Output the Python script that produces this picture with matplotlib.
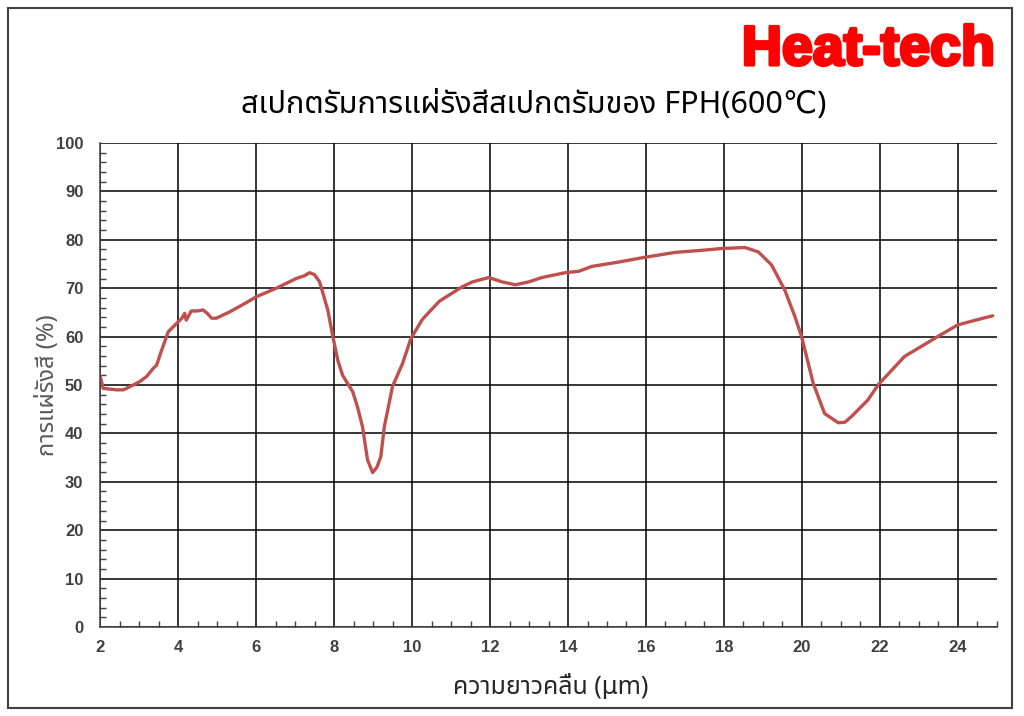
import matplotlib
matplotlib.use('Agg')
import matplotlib.pyplot as plt
import matplotlib.patheffects as pe
from matplotlib import font_manager
from matplotlib.ft2font import FT2Font
from matplotlib.patches import Rectangle
from matplotlib.ticker import MultipleLocator

# wavelength (um) and emissivity (%)
wavelength = [2.0, 2.08, 2.42, 2.6, 2.85, 3.02, 3.2, 3.36, 3.45, 3.58, 3.75, 3.96,
              4.1, 4.17, 4.21, 4.34, 4.5, 4.64, 4.75, 4.86, 4.98, 5.3, 5.75, 6.0,
              6.52, 7.03, 7.25, 7.37, 7.5, 7.63, 7.84, 7.97, 8.1, 8.22, 8.48, 8.6,
              8.73, 8.86, 8.99, 9.1, 9.2, 9.29, 9.5, 9.76, 9.97, 10.27, 10.7,
              11.29, 11.55, 11.97, 12.31, 12.65, 12.99, 13.33, 13.93, 14.28, 14.61,
              15.3, 15.98, 16.75, 17.4, 17.94, 18.54, 18.88, 19.22, 19.56, 19.82,
              19.99, 20.29, 20.58, 20.93, 21.1, 21.27, 21.69, 21.96, 22.63, 23.48,
              23.99, 24.5, 24.89]
emissivity = [51.9, 49.3, 49.0, 49.0, 50.0, 50.7, 51.8, 53.4, 54.1, 57.2, 61.0, 62.7,
              63.8, 64.8, 63.4, 65.3, 65.3, 65.5, 64.8, 63.8, 63.8, 65.0, 67.0, 68.2,
              70.0, 72.0, 72.6, 73.2, 72.8, 71.3, 65.5, 60.0, 55.0, 52.0, 48.6, 45.5,
              41.4, 34.5, 31.9, 33.0, 35.2, 41.4, 49.7, 54.5, 59.6, 63.6, 67.3,
              70.3, 71.3, 72.2, 71.3, 70.7, 71.3, 72.2, 73.2, 73.5, 74.5,
              75.4, 76.4, 77.4, 77.8, 78.2, 78.4, 77.5, 74.8, 69.6, 64.1,
              60.0, 50.3, 44.1, 42.2, 42.3, 43.5, 46.9, 50.1, 55.9, 60.0,
              62.4, 63.5, 64.3]

title = 'สเปกตรัมการแผ่รังสีสเปกตรัมของ FPH(600℃)'
xlabel = 'ความยาวคลื่น (µm)'
ylabel = 'การแผ่รังสี (%)'


def find_font(codepoint, prefer=()):
    cands = []
    for f in font_manager.fontManager.ttflist:
        try:
            if codepoint in FT2Font(f.fname).get_charmap():
                cands.append(f.name)
        except Exception:
            pass
    for p in prefer:
        if p in cands:
            return p
    return cands[0] if cands else 'DejaVu Sans'


thai = find_font(0x0E01, prefer=['Noto Sans Thai', 'Noto Sans Thai UI', 'Loma',
                                 'Garuda', 'Tlwg Typo', 'Norasi'])
names = {f.name for f in font_manager.fontManager.ttflist}
narrow = 'Liberation Sans Narrow' if 'Liberation Sans Narrow' in names else 'Liberation Sans'

fig = plt.figure(figsize=(10.24, 7.16), dpi=100)
ax = fig.add_axes([0.0977, 0.1243, 0.8759, 0.676])

ax.plot(wavelength, emissivity, color='#C0504D', linewidth=2.4, solid_capstyle='round')

ax.set_xlim(2, 25)
ax.set_ylim(0, 100)
ax.xaxis.set_major_locator(MultipleLocator(2))
ax.xaxis.set_minor_locator(MultipleLocator(0.5))
ax.yaxis.set_major_locator(MultipleLocator(10))
ax.yaxis.set_minor_locator(MultipleLocator(2))
ax.grid(True, which='major', color='black', linewidth=1.1)
ax.set_axisbelow(True)
ax.tick_params(axis='y', which='major', length=0, pad=12)
ax.tick_params(axis='x', which='major', length=0, pad=9)
ax.tick_params(which='minor', direction='in', length=4, width=1, color='#404040')
for s in ['top', 'right']:
    ax.spines[s].set_visible(False)
for s in ['left', 'bottom']:
    ax.spines[s].set_color('#404040')
    ax.spines[s].set_linewidth(1.1)

for lbl in ax.get_xticklabels() + ax.get_yticklabels():
    lbl.set_fontfamily(narrow)
    lbl.set_fontweight('bold')
    lbl.set_fontsize(12)
    lbl.set_color('#404040')

ax.set_xlabel(xlabel, fontsize=18, family=[thai, 'DejaVu Sans'], color='#262626')
ax.xaxis.set_label_coords(0.502, -0.098)
ax.set_ylabel(ylabel, fontsize=17, family=[thai, 'DejaVu Sans'], color='#595959')
ax.yaxis.set_label_coords(-0.045, 0.5)

fig.text(0.5215, 0.853, title, fontsize=22, family=[thai, 'DejaVu Sans'],
         ha='center', va='center', color='black')
fig.text(0.971, 0.929, 'Heat-tech', fontsize=40, fontweight='bold', family=narrow,
         color='#FF0000', ha='right', va='center',
         path_effects=[pe.withStroke(linewidth=2.5, foreground='#FF0000')])

fig.patches.append(Rectangle((0.008, 0.011), 0.98, 0.978, transform=fig.transFigure,
                             fill=False, edgecolor='#404040', linewidth=1.5))

plt.savefig('out.png', dpi=100)
